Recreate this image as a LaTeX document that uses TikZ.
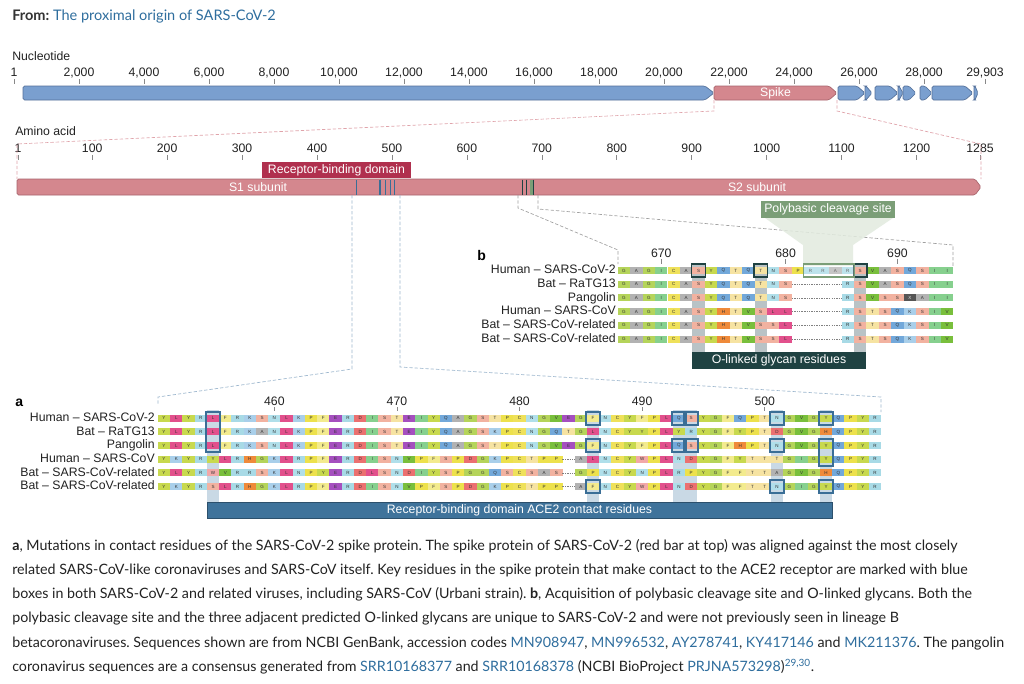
\documentclass[tikz,border=0pt]{standalone}
\usepackage{fontspec}
\setmainfont{Liberation Sans}
\newfontfamily\capfont{Lato}
\usetikzlibrary{fit}
\frenchspacing

\definecolor{labgray}{HTML}{222222}
\definecolor{tickgray}{HTML}{888888}
\definecolor{titlegray}{HTML}{333333}
\definecolor{captiongray}{HTML}{222222}
\definecolor{linkblue}{HTML}{2F6E9E}
\definecolor{geneblue}{HTML}{7A9FCF}
\definecolor{geneblueline}{HTML}{55719A}
\definecolor{spikepink}{HTML}{D4878E}
\definecolor{spikeline}{HTML}{A8646C}
\definecolor{rbdred}{HTML}{B0304E}
\definecolor{contactblue}{HTML}{3F739B}
\definecolor{boxblue}{HTML}{3A6E96}
\definecolor{shadeblue}{HTML}{C9D9E5}
\definecolor{glycandark}{HTML}{1F4242}
\definecolor{shadegray}{HTML}{B9C3C6}
\definecolor{cleavgreen}{HTML}{7B9E77}
\definecolor{cleavlight}{HTML}{E2EBDF}
\definecolor{dashpink}{HTML}{E0A3AA}
\definecolor{dashblue}{HTML}{9DB7CE}
\definecolor{dashgray}{HTML}{A0A0A0}
\definecolor{cellink}{HTML}{333333}
% residue colours
\definecolor{aaA}{HTML}{B2B2B2}
\definecolor{aaC}{HTML}{EFE15A}
\definecolor{aaD}{HTML}{EB7070}
\definecolor{aaE}{HTML}{A54FBF}
\definecolor{aaF}{HTML}{F3EB8E}
\definecolor{aaG}{HTML}{B5D45A}
\definecolor{aaH}{HTML}{EF8A3A}
\definecolor{aaI}{HTML}{86D08E}
\definecolor{aaK}{HTML}{A9CFEA}
\definecolor{aaL}{HTML}{E2508C}
\definecolor{aaN}{HTML}{B0DFEA}
\definecolor{aaP}{HTML}{EDE14C}
\definecolor{aaQ}{HTML}{72A8DA}
\definecolor{aaR}{HTML}{A8DAE6}
\definecolor{aaS}{HTML}{F2B2A0}
\definecolor{aaT}{HTML}{F6E3A2}
\definecolor{aaV}{HTML}{79BF3C}
\definecolor{aaW}{HTML}{F2A8A8}
\definecolor{aaY}{HTML}{C8D94E}
\definecolor{aaX}{HTML}{555555}

\tikzstyle{ticklab}=[anchor=base, inner sep=0pt, font=\fontsize{9.2}{10}\selectfont, text=labgray]
\tikzstyle{axislab}=[anchor=base west, inner sep=0pt, font=\fontsize{9.2}{10}\selectfont, text=labgray]
\tikzstyle{tickline}=[draw=tickgray, line width=0.5pt]
\tikzstyle{geneb}=[draw=geneblueline, fill=geneblue, line width=0.5pt]
\tikzstyle{genep}=[draw=spikeline, fill=spikepink, line width=0.5pt]
\tikzstyle{barlab}=[inner sep=0pt, font=\fontsize{9.2}{10}\selectfont, text=white]
\tikzstyle{rbdmark}=[draw=boxblue, line width=1pt]
\tikzstyle{glymark}=[draw=glycandark, line width=1pt]
\tikzstyle{labelbox}=[inner sep=0pt, font=\fontsize{9.2}{10}\selectfont, text=white, minimum height=12pt]
\tikzstyle{spikedash}=[draw=dashpink, line width=0.5pt, dash pattern=on 2.5pt off 1.5pt]
\tikzstyle{adash}=[draw=dashblue, line width=0.5pt, dash pattern=on 2.5pt off 1.5pt]
\tikzstyle{bdash}=[draw=dashgray, line width=0.5pt, dash pattern=on 2.5pt off 1.5pt]
\tikzstyle{cell}=[inner sep=0pt, outer sep=0pt, minimum width=9.3pt, minimum height=5.25pt, font=\fontsize{3.4}{4}\selectfont, text=cellink]
\tikzstyle{gapline}=[draw=gray, line width=0.4pt, dash pattern=on 1pt off 0.8pt]
\tikzstyle{seqlab}=[anchor=base east, inner sep=0pt, font=\fontsize{9.2}{10}\selectfont, text=labgray]
\tikzstyle{abox}=[draw=boxblue, line width=1.4pt, inner xsep=0.5pt, inner ysep=2.2pt]
\tikzstyle{bbox}=[draw=glycandark, line width=1.1pt, inner xsep=0.5pt, inner ysep=2.2pt]
\tikzstyle{cleavbox}=[draw=cleavgreen, line width=1pt, fill=white, fill opacity=0.25, inner xsep=0.5pt, inner ysep=2.2pt]
\tikzstyle{panellab}=[anchor=base west, inner sep=0pt, font=\bfseries\fontsize{10.5}{12}\selectfont, text=black]
\tikzstyle{captext}=[anchor=base west, inner sep=0pt, font=\capfont\fontsize{10.7}{12}\selectfont, text=captiongray]

\newcommand{\gene}[5]{%
  \draw[#5, rounded corners=1.2pt] (#2,93) -- (#2,86) -- ({#3-#4},86) -- (#3,93) -- ({#3-#4},100) -- (#2,100) -- cycle;
  \coordinate (#1) at ({(#2+#3)/2},93);
}
\newcommand{\seqrow}[5]{%
  \foreach \res [count=\i from 0] in {#5} {%
    \if\res x
      \draw[gapline] ({#2+\i*#3-#3/2},#4) -- ++(#3,0);
    \else
      \node[cell, fill=aa\res] (#1-\i) at ({#2+\i*#3},#4) {\res};
    \fi
  }%
}
\newcommand{\lnk}[1]{\textcolor{linkblue}{#1}}

\begin{document}
\begin{tikzpicture}[x=0.75pt,y=-0.75pt]
\fill[white] (0,0) rectangle (1024,683);
\useasboundingbox (0,0) rectangle (1024,683);

\node[anchor=base west, inner sep=0pt, font=\capfont\fontsize{10.9}{13}\selectfont] (title) at (12,20)
  {\textcolor{titlegray}{\bfseries From:} \textcolor{linkblue}{The proximal origin of SARS-CoV-2}};

% genome
\node[axislab] (ntlab) at (12,60) {Nucleotide};
\node[ticklab] (nt0) at (14,76) {1};
\draw[tickline] (14,79) -- ++(0,5);
\foreach \n in {1,...,14} {
  \pgfmathtruncatemacro\k{2*\n}
  \node[ticklab] (nt\n) at ({14+\n*65},76) {\k,000};
  \draw[tickline] ({14+\n*65},79) -- ++(0,5);
}
\node[ticklab] (nt15) at (985,76) {29,903};
\draw[tickline] (985,79) -- ++(0,5);

\gene{orfab}{23}{714}{9}{geneb}
\gene{spike}{714}{837}{8}{genep}
\gene{orfthree}{838}{865}{8}{geneb}
\gene{orfthreeb}{865}{872}{6}{geneb}
\gene{orfm}{875}{898}{8}{geneb}
\gene{orfsix}{898}{903}{4}{geneb}
\gene{orfsevena}{903}{916}{7}{geneb}
\gene{orfeight}{920}{932}{7}{geneb}
\gene{orfn}{932}{973}{8}{geneb}
\gene{orften}{974}{978}{3}{geneb}
\node[barlab] (spikelab) at (spike) {Spike};

% protein
\node[axislab] (aalab) at (15,135) {Amino acid};
\node[ticklab] (aa0) at (18,152) {1};
\draw[tickline] (18,155) -- ++(0,5);
\foreach \n in {1,...,12} {
  \node[ticklab] (aa\n) at ({18+(\n*100-1)*0.7494},152) {\n00};
  \draw[tickline] ({18+(\n*100-1)*0.7494},155) -- ++(0,5);
}
\node[ticklab] (aa13) at (980,152) {1285};
\draw[tickline] (980,155) -- ++(0,5);

\coordinate (spikeL) at (714,100);
\coordinate (spikeR) at (837,100);
\coordinate (protL) at (17,179);
\coordinate (protR) at (981,179);
\draw[spikedash] (spikeL) -- (714,111) -- (17,144) -- (protL);
\draw[spikedash] (spikeR) -- (837,111) -- (981,144) -- (protR);

\draw[genep, rounded corners=1.2pt] (17,187) -- (17,179) -- (975,179) -- (981,187) -- (975,195) -- (17,195) -- cycle;
\node[barlab] (sone) at (258,187) {S1 subunit};
\node[barlab] (stwo) at (757,187) {S2 subunit};
\foreach \x in {356.5,380,385.7,390.7,394.3}
  \draw[rbdmark] (\x,179.5) -- (\x,194.5);
\foreach \x in {522.7,526.5}
  \draw[glymark] (\x,179.5) -- (\x,194.5);
\fill[cleavgreen] (529.5,179.5) rectangle (533.5,194.5);
\draw[glymark, line width=0.6pt] (533.5,179.5) -- (533.5,194.5);
\node[labelbox, fill=rbdred, minimum width=111.75pt] (rbd) at (336.5,170) {Receptor-binding domain};

% links to the panels
\coordinate (rbdcutL) at (352,195);
\coordinate (rbdcutR) at (400,195);
\coordinate (paneltopL) at (158,405);
\coordinate (paneltopR) at (881,412);
\draw[adash] (rbdcutL) -- (352,369) -- (158,397) -- (paneltopL);
\draw[adash] (rbdcutR) -- (400,367) -- (881,397) -- (paneltopR);
\coordinate (glycutL) at (518,195);
\coordinate (glycutR) at (538,195);
\coordinate (panelbL) at (618,264);
\coordinate (panelbR) at (953,266);
\draw[bdash] (glycutL) -- (518,208) -- (618,250) -- (panelbL);
\draw[bdash] (glycutR) -- (538,209) -- (953,245) -- (panelbR);

% panel b
\fill[cleavlight, opacity=0.85] (765,218) -- (893,218) -- (853,245) -- (853,266) -- (803,266) -- (803,245) -- cycle;
\node[labelbox, fill=cleavgreen, minimum width=100.5pt, minimum height=12.75pt] (cleavlab) at (828,209.5) {Polybasic cleavage site};
\node[panellab] (blab) at (477,260) {b};
\foreach \c/\n in {3/670,13/680,22/690} {
  \node[ticklab] (tb\n) at ({624+\c*12.43},257) {\n};
  \draw[tickline] ({624+\c*12.43},259) -- ++(0,5);
}
\foreach \c in {6,11,19}
  \fill[shadegray] ({624+\c*12.43-6.2},263) rectangle ++(12.43,89);
\foreach \lab [count=\j from 0] in {Human – SARS-CoV-2, Bat – RaTG13, Pangolin, Human – SARS-CoV, Bat – SARS-CoV-related, Bat – SARS-CoV-related}
  \node[seqlab] (lb\j) at (616,{270.5+13.7*\j+3.3}) {\lab};
\seqrow{b0}{624}{12.43}{270.5}{G,A,G,I,C,A,S,Y,Q,T,Q,T,N,S,P,R,R,A,R,S,V,A,S,Q,S,I,I}
\seqrow{b1}{624}{12.43}{284.2}{G,A,G,I,C,A,S,Y,Q,T,Q,T,N,S,x,x,x,x,R,S,V,A,S,Q,S,I,I}
\seqrow{b2}{624}{12.43}{297.9}{G,A,G,I,C,A,S,Y,Q,T,Q,T,N,S,x,x,x,x,R,S,V,S,S,X,A,I,I}
\seqrow{b3}{624}{12.43}{311.6}{G,A,G,I,C,A,S,Y,H,T,V,S,L,L,x,x,x,x,R,S,T,S,Q,K,S,I,V}
\seqrow{b4}{624}{12.43}{325.3}{G,A,G,I,C,A,S,Y,H,T,V,S,S,L,x,x,x,x,R,S,T,S,Q,K,S,I,V}
\seqrow{b5}{624}{12.43}{339.0}{G,A,G,I,C,A,S,Y,H,T,V,S,S,L,x,x,x,x,R,S,T,S,Q,K,S,I,V}
\node[text=white, inner sep=0pt, font=\fontsize{3.4}{4}\selectfont] (xres) at (b2-23) {X};
\foreach \c in {6,11,19}
  \node[bbox, fit=(b0-\c)] (glybox\c) {};
\node[cleavbox, fit=(b0-15)(b0-18)] (cleavsite) {};
\node[labelbox, fill=glycandark, minimum width=130.5pt, minimum height=12.75pt] (glybar) at (779,360.5) {O-linked glycan residues};

% panel a
\node[panellab] (alab) at (15,406) {a};
\foreach \c/\n in {9/460,19/470,29/480,39/490,49/500} {
  \node[ticklab] (ta\n) at ({164+\c*12.26},405) {\n};
  \draw[tickline] ({164+\c*12.26},407) -- ++(0,4);
}
\foreach \c in {4,35,42,43,50,54}
  \fill[shadeblue] ({164+\c*12.26-6.13},410) rectangle ++(12.26,92);
\foreach \lab [count=\j from 0] in {Human – SARS-CoV-2, Bat – RaTG13, Pangolin, Human – SARS-CoV, Bat – SARS-CoV-related, Bat – SARS-CoV-related}
  \node[seqlab] (la\j) at (155,{418.3+13.65*\j+3.3}) {\lab};
\seqrow{a0}{164}{12.26}{418.3}{Y,L,Y,R,L,F,R,K,S,N,L,K,P,F,E,R,D,I,S,T,E,I,Y,Q,A,G,S,T,P,C,N,G,V,E,G,F,N,C,Y,F,P,L,Q,S,Y,G,F,Q,P,T,N,G,V,G,Y,Q,P,Y,R}
\seqrow{a1}{164}{12.26}{431.95}{Y,L,Y,R,L,F,R,K,A,N,L,K,P,F,E,R,D,I,S,T,E,I,Y,Q,A,G,S,K,P,C,N,G,Q,T,G,L,N,C,Y,Y,P,L,Y,R,Y,G,F,Y,P,T,D,G,V,G,H,Q,P,Y,R}
\seqrow{a2}{164}{12.26}{445.6}{Y,L,Y,R,L,F,R,K,S,N,L,K,P,F,E,R,D,I,S,T,E,I,Y,Q,A,G,S,T,P,C,N,G,V,E,G,F,N,C,Y,F,P,L,Q,S,Y,G,F,H,P,T,N,G,V,G,Y,Q,P,Y,R}
\seqrow{a3}{164}{12.26}{459.25}{Y,K,Y,R,Y,L,R,H,G,K,L,R,P,F,E,R,D,I,S,N,V,P,F,S,P,D,G,K,P,C,T,P,P,x,A,L,N,C,Y,W,P,L,N,D,Y,G,F,Y,T,T,T,G,I,G,Y,Q,P,Y,R}
\seqrow{a4}{164}{12.26}{472.9}{Y,L,Y,R,W,V,R,R,S,K,L,N,P,Y,E,R,D,L,S,N,D,I,Y,S,P,G,G,Q,S,C,S,A,S,x,G,P,N,C,Y,N,P,L,R,P,Y,G,F,F,T,T,A,G,V,G,H,Q,P,Y,R}
\seqrow{a5}{164}{12.26}{486.55}{Y,K,Y,R,S,L,R,H,G,K,L,R,P,F,E,R,D,I,S,N,V,P,F,S,P,D,G,K,P,C,T,P,P,x,A,F,N,C,Y,W,P,L,N,D,Y,G,F,F,T,T,N,G,I,G,Y,Q,P,Y,R}
\node[abox, fit=(a0-4)(a2-4)] (box455) {};
\foreach \r in {0,2,5} {
  \node[abox, fit=(a\r-35)] (box486r\r) {};
  \node[abox, fit=(a\r-50)] (box501r\r) {};
}
\foreach \r in {0,2}
  \foreach \c in {42,43}
    \node[abox, fit=(a\r-\c)] (boxqs\r\c) {};
\node[abox, fit=(a0-54)] (box505a) {};
\node[abox, fit=(a2-54)(a3-54)] (box505b) {};
\node[abox, fit=(a5-54)] (box505c) {};
\node[labelbox, fill=contactblue, draw=contactblue!70!black, line width=0.4pt, minimum width=468.75pt] (acebar) at (519.5,510) {Receptor-binding domain ACE2 contact residues};

% caption
\node[captext] (cap1) at (12,550) {\textbf{a}, Mutations in contact residues of the SARS-CoV-2 spike protein. The spike protein of SARS-CoV-2 (red bar at top) was aligned against the most closely};
\node[captext] (cap2) at (12,574.3) {related SARS-CoV-like coronaviruses and SARS-CoV itself. Key residues in the spike protein that make contact to the ACE2 receptor are marked with blue};
\node[captext] (cap3) at (12,598.6) {boxes in both SARS-CoV-2 and related viruses, including SARS-CoV (Urbani strain). \textbf{b}, Acquisition of polybasic cleavage site and O-linked glycans. Both the};
\node[captext] (cap4) at (12,622.9) {polybasic cleavage site and the three adjacent predicted O-linked glycans are unique to SARS-CoV-2 and were not previously seen in lineage B};
\node[captext] (cap5) at (12,647.2) {betacoronaviruses. Sequences shown are from NCBI GenBank, accession codes \lnk{MN908947}, \lnk{MN996532}, \lnk{AY278741}, \lnk{KY417146} and \lnk{MK211376}. The pangolin};
\node[captext] (cap6) at (12,671.5) {coronavirus sequences are a consensus generated from \lnk{SRR10168377} and \lnk{SRR10168378} (NCBI BioProject \lnk{PRJNA573298})\textsuperscript{\lnk{29,30}}.};
\end{tikzpicture}
\end{document}
